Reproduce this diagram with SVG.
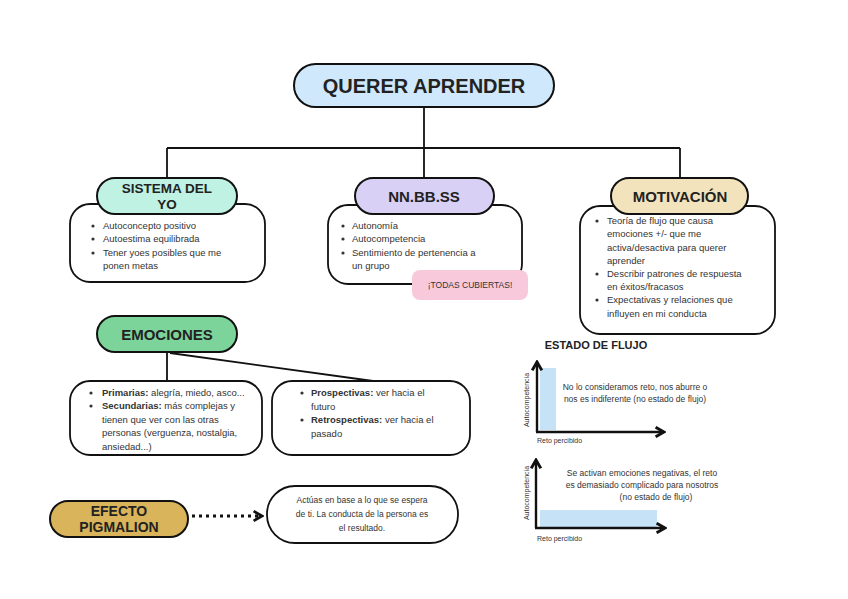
<svg xmlns="http://www.w3.org/2000/svg" width="848" height="599" viewBox="0 0 848 599">
<defs>
<style>
.pill{stroke:#111;stroke-width:2}
.box{fill:#fff;stroke:#111;stroke-width:1.8}
.h{font-family:"Liberation Sans",Arial,sans-serif;font-weight:bold;fill:#222;text-anchor:middle}
.t{font-family:"Liberation Sans",Arial,sans-serif;font-size:9.5px;fill:#333}
.c{font-family:"Liberation Sans",Arial,sans-serif;font-size:8.5px;fill:#333;text-anchor:middle}
.s{font-family:"Liberation Sans",Arial,sans-serif;font-size:7px;fill:#333}
.ln{stroke:#111;stroke-width:1.8;fill:none}
</style>
<marker id="ah" viewBox="0 0 10 10" refX="8" refY="5" markerWidth="4" markerHeight="4" orient="auto">
<path d="M1,1 L8,5 L1,9" fill="none" stroke="#111" stroke-width="2.2"/>
</marker>
<marker id="ah2" viewBox="0 0 10 10" refX="8" refY="5" markerWidth="5" markerHeight="5" orient="auto">
<path d="M1,1 L8,5 L1,9" fill="none" stroke="#111" stroke-width="2.4"/>
</marker>
</defs>
<rect width="848" height="599" fill="#fff"/>

<g id="connectors">
<path class="ln" d="M424,107 V148 M167,148 H680 M167,148 V178 M424,148 V178 M680,148 V178"/>
<path class="ln" d="M167,352 V382 M170,353 L373,381"/>
<path d="M192,516 H262" stroke="#111" stroke-width="3" stroke-dasharray="3,4" fill="none" marker-end="url(#ah)"/>
</g>

<g id="querer-aprender">
<rect class="pill" x="294" y="64" width="260" height="43" rx="21.5" fill="#cfe8fb"/>
<text class="h" x="424" y="93" font-size="20">QUERER APRENDER</text>
</g>

<g id="sistema-del-yo">
<rect class="box" x="70" y="204" width="195" height="78" rx="20"/>
<rect class="pill" x="97" y="178" width="140" height="36" rx="18" fill="#bff2e3"/>
<text class="h" x="167" y="193" font-size="13.5">SISTEMA DEL</text>
<text class="h" x="167" y="209" font-size="13.5">YO</text>
<g class="t">
<circle cx="93" cy="226" r="1.6" fill="#333"/><text x="103" y="229">Autoconcepto positivo</text>
<circle cx="93" cy="239" r="1.6" fill="#333"/><text x="103" y="242">Autoestima equilibrada</text>
<circle cx="93" cy="253" r="1.6" fill="#333"/><text x="103" y="256">Tener yoes posibles que me</text>
<text x="103" y="269">ponen metas</text>
</g>
</g>

<g id="nnbbss">
<rect class="box" x="328" y="205" width="194" height="79" rx="20"/>
<rect class="pill" x="355" y="178" width="139" height="36" rx="18" fill="#d9d0f5"/>
<text class="h" x="424" y="202" font-size="15">NN.BB.SS</text>
<g class="t">
<circle cx="343" cy="226" r="1.6" fill="#333"/><text x="352" y="229">Autonomía</text>
<circle cx="343" cy="239" r="1.6" fill="#333"/><text x="352" y="242">Autocompetencia</text>
<circle cx="343" cy="253" r="1.6" fill="#333"/><text x="352" y="256">Sentimiento de pertenencia a</text>
<text x="352" y="269">un grupo</text>
</g>
</g>

<g id="todas-cubiertas">
<rect x="412" y="270" width="116" height="30" rx="8" fill="#f8c9da"/>
<text class="c" x="470" y="288">¡TODAS CUBIERTAS!</text>
</g>

<g id="motivacion">
<rect class="box" x="580" y="206" width="195" height="128" rx="20"/>
<rect class="pill" x="611" y="178" width="137" height="36" rx="18" fill="#f3e3bd"/>
<text class="h" x="680" y="202" font-size="15">MOTIVACIÓN</text>
<g class="t">
<circle cx="597" cy="221" r="1.6" fill="#333"/><text x="607" y="224">Teoría de flujo que causa</text>
<text x="607" y="237">emociones +/- que me</text>
<text x="607" y="251">activa/desactiva para querer</text>
<text x="607" y="264">aprender</text>
<circle cx="597" cy="274" r="1.6" fill="#333"/><text x="607" y="277">Describir patrones de respuesta</text>
<text x="607" y="290">en éxitos/fracasos</text>
<circle cx="597" cy="300" r="1.6" fill="#333"/><text x="607" y="303">Expectativas y relaciones que</text>
<text x="607" y="317">influyen en mi conducta</text>
</g>
</g>

<g id="emociones">
<rect class="pill" x="97" y="316" width="140" height="36" rx="18" fill="#7dd49b"/>
<text class="h" x="167" y="340" font-size="15">EMOCIONES</text>
</g>

<g id="emociones-primarias">
<rect class="box" x="70" y="381" width="192" height="74" rx="20"/>
<g class="t">
<circle cx="91" cy="393" r="1.6" fill="#333"/><text x="102" y="396"><tspan font-weight="bold">Primarias:</tspan> alegría, miedo, asco...</text>
<circle cx="91" cy="406" r="1.6" fill="#333"/><text x="102" y="409"><tspan font-weight="bold">Secundarias:</tspan> más complejas y</text>
<text x="102" y="423">tienen que ver con las otras</text>
<text x="102" y="436">personas (verguenza, nostalgia,</text>
<text x="102" y="450">ansiedad...)</text>
</g>
</g>

<g id="emociones-temporales">
<rect class="box" x="272" y="381" width="198" height="74" rx="20"/>
<g class="t">
<circle cx="302" cy="393" r="1.6" fill="#333"/><text x="311" y="396"><tspan font-weight="bold">Prospectivas:</tspan> ver hacia el</text>
<text x="311" y="410">futuro</text>
<circle cx="302" cy="420" r="1.6" fill="#333"/><text x="311" y="423"><tspan font-weight="bold">Retrospectivas:</tspan> ver hacia el</text>
<text x="311" y="437">pasado</text>
</g>
</g>

<g id="efecto-pigmalion">
<rect class="pill" x="50" y="501" width="138" height="36" rx="18" fill="#d9b45a"/>
<text class="h" x="119" y="516" font-size="14">EFECTO</text>
<text class="h" x="119" y="532" font-size="14">PIGMALION</text>
</g>

<g id="pigmalion-desc">
<rect class="box" x="267" y="486" width="191" height="57" rx="28"/>
<text class="c" x="362" y="503" font-size="9">Actúas en base a lo que se espera</text>
<text class="c" x="362" y="517" font-size="9">de ti. La conducta de la persona es</text>
<text class="c" x="362" y="531" font-size="9">el resultado.</text>
</g>

<g id="estado-de-flujo">
<text class="h" x="596" y="349" font-size="11">ESTADO DE FLUJO</text>
<rect x="540" y="368" width="16" height="62" fill="#c6e2f7"/>
<path d="M537,432 V362" stroke="#111" stroke-width="2.4" fill="none" marker-end="url(#ah2)"/>
<path d="M536,432 H664" stroke="#111" stroke-width="2.4" fill="none" marker-end="url(#ah2)"/>
<text class="s" x="529" y="400" text-anchor="middle" transform="rotate(-90 529 400)">Autocompetencia</text>
<text class="s" x="537" y="443">Reto percibido</text>
<text class="c" x="635" y="390" font-size="7.3">No lo consideramos reto, nos aburre o</text>
<text class="c" x="635" y="402" font-size="7.3">nos es indiferente (no estado de flujo)</text>

<rect x="540" y="510" width="117" height="17" fill="#c6e2f7"/>
<path d="M536,528 V460" stroke="#111" stroke-width="2.4" fill="none" marker-end="url(#ah2)"/>
<path d="M535,528 H665" stroke="#111" stroke-width="2.4" fill="none" marker-end="url(#ah2)"/>
<text class="s" x="529" y="493" text-anchor="middle" transform="rotate(-90 529 493)">Autocompetencia</text>
<text class="s" x="537" y="541">Reto percibido</text>
<text class="c" x="642" y="476" font-size="7.3">Se activan emociones negativas, el reto</text>
<text class="c" x="642" y="488" font-size="7.3">es demasiado complicado para nosotros</text>
<text class="c" x="656" y="500" font-size="7.3">(no estado de flujo)</text>
</g>
</svg>
